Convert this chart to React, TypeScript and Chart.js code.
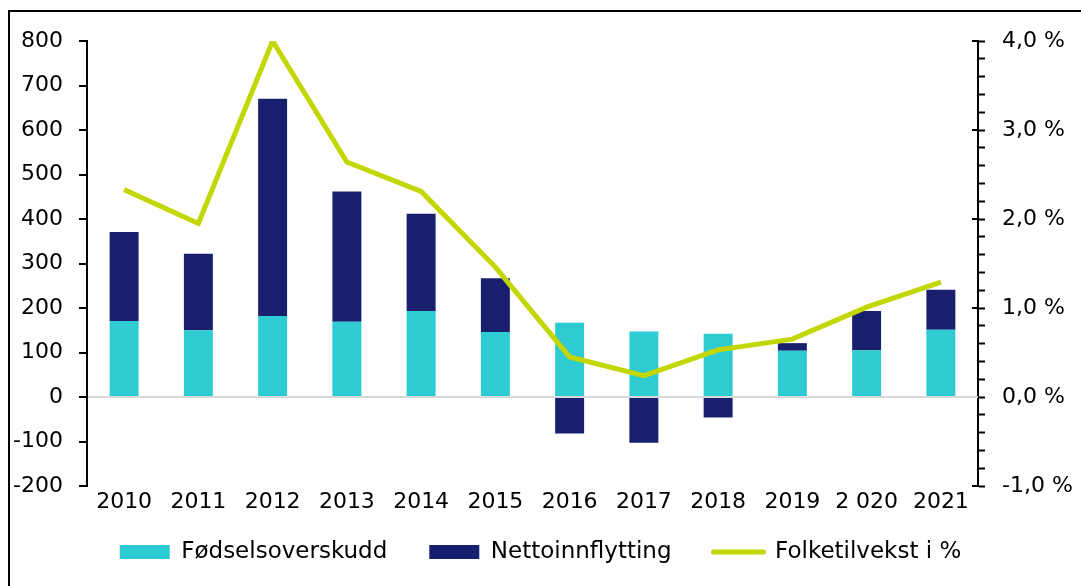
import React, { useEffect, useRef } from 'react';
import { Chart, registerables } from 'chart.js';

Chart.register(...registerables);

const categories = ['2010', '2011', '2012', '2013', '2014', '2015', '2016', '2017', '2018', '2019', '2 020', '2021'];
const fodselsoverskudd = [171, 150, 182, 169, 193, 146, 167, 147, 142, 104, 105, 151];
const nettoinnflytting = [200, 172, 488, 293, 219, 121, -82, -103, -46, 17, 88, 90];
const folketilvekst = [2.33, 1.95, 4.0, 2.64, 2.31, 1.46, 0.45, 0.24, 0.53, 0.65, 1.01, 1.29];
const seriesNames = ['Fødselsoverskudd', 'Nettoinnflytting', 'Folketilvekst i %'];

const CYAN = '#2ecbd2';
const NAVY = '#181f6c';
const LIME = '#c4d600';

const framePlugin = {
  id: 'frame',
  beforeDraw(chart: any) {
    const ctx = chart.ctx;
    ctx.save();
    ctx.fillStyle = '#ffffff';
    ctx.fillRect(0, 0, chart.width, chart.height);
    ctx.strokeStyle = '#000000';
    ctx.lineWidth = 2;
    ctx.strokeRect(9, 11, chart.width + 40, chart.height + 40);
    ctx.restore();
  },
  afterDraw(chart: any) {
    // inward half of the major tick marks on the right axis
    const s = chart.scales.y1;
    if (!s) return;
    const ctx = chart.ctx;
    ctx.save();
    ctx.lineWidth = 2;
    s.ticks.forEach((t: any) => {
      const v = Number(t.value);
      if (Math.abs(v - Math.round(v)) < 1e-6) {
        const y = Math.round(s.getPixelForValue(v));
        ctx.strokeStyle = Math.round(v) === 0 ? '#d9d9d9' : '#000';
        ctx.beginPath();
        ctx.moveTo(s.left - 6, y);
        ctx.lineTo(s.left, y);
        ctx.stroke();
      }
    });
    ctx.restore();
  },
};

export default function App() {
  const ref = useRef<HTMLCanvasElement | null>(null);

  useEffect(() => {
    if (!ref.current) return;
    Chart.defaults.font.family = "'DejaVu Sans', sans-serif";
    Chart.defaults.color = '#000';
    const chart = new Chart(ref.current, {
      type: 'bar',
      data: {
        labels: categories,
        datasets: [
          {
            type: 'bar',
            label: seriesNames[0],
            data: fodselsoverskudd,
            backgroundColor: CYAN,
            borderWidth: 0,
            yAxisID: 'y',
            order: 1,
            barPercentage: 0.39,
            categoryPercentage: 1.0,
          },
          {
            type: 'bar',
            label: seriesNames[1],
            data: nettoinnflytting,
            backgroundColor: NAVY,
            borderWidth: 0,
            yAxisID: 'y',
            order: 1,
            barPercentage: 0.39,
            categoryPercentage: 1.0,
          },
          {
            type: 'line',
            label: seriesNames[2],
            data: folketilvekst,
            borderColor: LIME,
            backgroundColor: LIME,
            borderWidth: 5,
            pointRadius: 0,
            tension: 0,
            yAxisID: 'y1',
            order: 0,
          },
        ],
      } as any,
      plugins: [framePlugin],
      options: {
        animation: false,
        responsive: false,
        devicePixelRatio: 1,
        layout: { padding: { top: 41, left: 0, right: 0, bottom: 12.5 } },
        plugins: {
          tooltip: { enabled: false },
          legend: {
            position: 'bottom',
            labels: {
              font: { size: 23 },
              color: '#000',
              usePointStyle: true,
              pointStyleWidth: 50,
              boxWidth: 50,
              boxHeight: 14,
              padding: 42,
              generateLabels: () =>
                seriesNames.map((name, i) => ({
                  text: name,
                  fillStyle: i === 0 ? CYAN : i === 1 ? NAVY : LIME,
                  strokeStyle: i === 2 ? LIME : 'rgba(0,0,0,0)',
                  lineWidth: i === 2 ? 5 : 0,
                  lineCap: 'round',
                  pointStyle: i === 2 ? 'line' : 'rect',
                  hidden: false,
                  datasetIndex: i,
                  fontColor: '#000',
                })) as any,
            },
          },
        },
        scales: {
          x: {
            stacked: true,
            grid: { display: false, drawTicks: false },
            border: { display: false },
            ticks: { font: { size: 22 }, color: '#000', padding: 3, maxRotation: 0, autoSkip: false },
            afterFit: (s: any) => {
              s.height = 12.5;
              // let the year labels run below the (thin) axis box instead of being clipped
              s._computeLabelArea = () => undefined;
            },
          },
          y: {
            stacked: true,
            position: 'left',
            min: -200,
            max: 800,
            ticks: { stepSize: 100, font: { size: 22 }, color: '#000', padding: 16, autoSkip: false },
            grid: {
              drawOnChartArea: true,
              color: (c: any) => (c.tick && c.tick.value === 0 ? '#d9d9d9' : 'rgba(0,0,0,0)'),
              lineWidth: 2,
              tickColor: '#000',
              tickLength: 8,
              tickWidth: 2,
            },
            border: { display: true, color: '#000', width: 2 },
            afterFit: (s: any) => {
              s.width = 87;
            },
          },
          y1: {
            position: 'right',
            min: -1,
            max: 4,
            ticks: {
              stepSize: 0.2,
              autoSkip: false,
              font: { size: 22 },
              color: '#000',
              padding: 17,
              callback: (v: any) => {
                const n = Number(v);
                return Math.abs(n - Math.round(n)) < 1e-6
                  ? Math.round(n).toFixed(1).replace('.', ',') + ' %'
                  : '';
              },
            },
            grid: { drawOnChartArea: false, tickColor: '#000', tickLength: 7, tickWidth: 2 },
            border: { display: true, color: '#000', width: 2 },
            afterFit: (s: any) => {
              s.width = 103;
            },
          },
        },
      } as any,
    });
    return () => chart.destroy();
  }, []);

  return (
    <canvas
      ref={ref}
      width={1081}
      height={586}
      style={{ position: 'fixed', left: 0, top: 0, width: 1081, height: 586, display: 'block' }}
    />
  );
}
